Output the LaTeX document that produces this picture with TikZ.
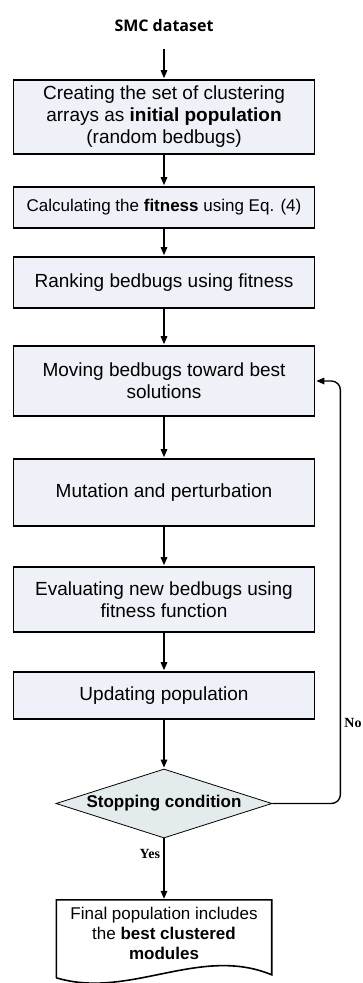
\documentclass[tikz,border=0pt]{standalone}
\usepackage{fontspec}
\setmainfont{Liberation Sans}
\newfontfamily\titlefont{Open Sans}
\newfontfamily\yesnofont{Liberation Serif}
\usetikzlibrary{positioning,shapes.geometric,arrows.meta,calc}

\definecolor{boxfill}{HTML}{EEF2F8}
\definecolor{decfill}{HTML}{E3EBED}

\tikzset{
  procbox/.style={rectangle, draw, line width=1.6pt, fill=boxfill, minimum width=301pt, align=center, inner sep=2pt, font=\fontsize{19}{22}\selectfont},
  decbox/.style={diamond, draw, line width=0.8pt, fill=decfill, aspect=3.1, minimum width=216pt, minimum height=69pt, inner sep=1pt, font=\fontsize{17}{20}\selectfont\bfseries},
  docbox/.style={rectangle, minimum width=215pt, minimum height=66pt, align=center, inner sep=0pt, font=\fontsize{17}{20}\selectfont},
  arr/.style={-{Triangle[length=8pt,width=6.5pt]}, line width=1.4pt, shorten >=1pt},
  yesno/.style={font=\yesnofont\fontsize{14}{16}\selectfont\bfseries},
}

\begin{document}
\begin{tikzpicture}[x=1pt, y=1pt]

    \useasboundingbox (0,0) rectangle (362,-983);

    \node (smc) at (164,-25) {\titlefont\fontsize{16}{18}\selectfont\bfseries SMC dataset};
    \node [procbox, minimum height=74pt] (init) [node distance=92pt, below of=smc] {Creating the set of clustering\\arrays as \textbf{initial population}\\(random bedbugs)};
    \node [procbox, minimum height=41pt, font=\fontsize{17}{20}\selectfont] (fit) [node distance=90.5pt, below of=init] {Calculating the \textbf{fitness} using Eq. (4)};
    \node [procbox, minimum height=51pt] (rank) [node distance=75pt, below of=fit] {Ranking bedbugs using fitness};
    \node [procbox, minimum height=70pt] (move) [node distance=98.5pt, below of=rank] {Moving bedbugs toward best\\solutions};
    \node [procbox, minimum height=67pt] (mut) [node distance=111.5pt, below of=move] {Mutation and perturbation};
    \node [procbox, minimum height=65pt] (eval) [node distance=107pt, below of=mut] {Evaluating new bedbugs using\\fitness function};
    \node [procbox, minimum height=47pt] (upd) [node distance=96pt, below of=eval] {Updating population};
    \node [decbox] (stop) [node distance=108pt, below of=upd] {Stopping condition};
    \node [docbox] (final) [node distance=129.5pt, below of=stop] {Final population includes\\the \textbf{best clustered}\\\textbf{modules}};

    % document outline
    \draw [line width=1.6pt] ($(final.north west)+(0,-78)$) -- (final.north west) -- (final.north east) -- ($(final.north east)+(0,-75)$) .. controls ($(final.north east)+(-72,-45)$) and ($(final.north west)+(73,-100)$) .. ($(final.north west)+(0,-78)$);

    \draw [arr, shorten <=14pt] (smc) -- (init);
    \draw [arr] (init) -- (fit);
    \draw [arr] (fit) -- (rank);
    \draw [arr] (rank) -- (move);
    \draw [arr] (move) -- (mut);
    \draw [arr] (mut) -- (eval);
    \draw [arr] (eval) -- (upd);
    \draw [arr] (upd) -- (stop);
    \draw [arr] (stop) -- node [yesno, left, pos=0.25] (yeslbl) {Yes} (final);
    \draw [arr, rounded corners=9pt] (stop.east) -- ++(68,0) |- node [yesno, right, pos=0.095] (nolbl) {No} (move.east);

\end{tikzpicture}
\end{document}
